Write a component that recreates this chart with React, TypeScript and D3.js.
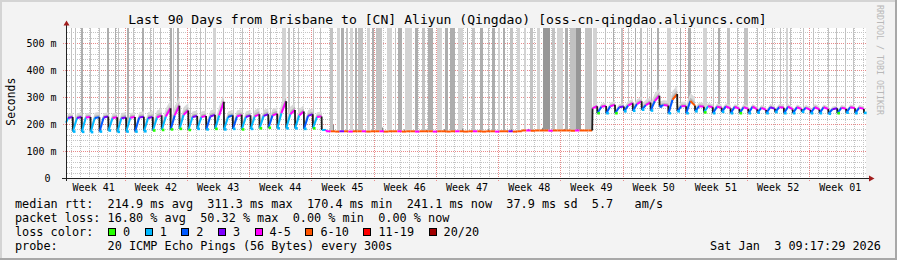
import React from 'react';
import * as d3 from 'd3';

// ---------------- data ----------------
const HOUR = 3600e3;
const DAY = 864e5;
const endTime = Date.UTC(2026, 0, 3, 9, 17, 29);
const startTime = endTime - 90 * DAY;
const yTopSeconds = 0.5556;

const titleText = 'Last 90 Days from Brisbane to [CN] Aliyun (Qingdao) [oss-cn-qingdao.aliyuncs.com]';
const yTickValues = [0, 0.1, 0.2, 0.3, 0.4, 0.5];
const yTickLabels = ['0 ', '100 m', '200 m', '300 m', '400 m', '500 m'];
const weekLabels = ['Week 41', 'Week 42', 'Week 43', 'Week 44', 'Week 45', 'Week 46', 'Week 47', 'Week 48', 'Week 49', 'Week 50', 'Week 51', 'Week 52', 'Week 01'];

const statLines = [
  'median rtt:  214.9 ms avg  311.3 ms max  170.4 ms min  241.1 ms now  37.9 ms sd  5.7   am/s',
  'packet loss: 16.80 % avg  50.32 % max  0.00 % min  0.00 % now',
];
const lossTitle = 'loss color:';
const probeLine = 'probe:       20 ICMP Echo Pings (56 Bytes) every 300s';
const lossLabels = ['0', '1', '2', '3', '4-5', '6-10', '11-19', '20/20'];
const lossUpper = [0, 1, 2, 3, 5, 10, 19, 20];

// Phase 1: daily sawtooth (ms). One entry per ~04:00 drop, Oct 6 .. Nov 2
const earlyFirstDrop = Date.UTC(2025, 9, 6, 4);
const earlyLead = [205, 222, 226];
const earlyLeadLoss = [1, 3];
const earlyLeadSpread = 16;
const earlyLow = [172, 171, 170, 172, 176, 171, 172, 172, 173, 176, 178, 180, 182, 178, 182, 180, 182, 180, 182, 180, 182, 184, 186, 184, 184, 184, 182, 184];
const earlyPlateau = [222, 224, 222, 224, 222, 221, 223, 224, 222, 224, 228, 232, 234, 226, 226, 228, 232, 226, 228, 226, 228, 230, 232, 240, 236, 232, 230, 226];
const earlyPeak = [226, 226, 225, 228, 225, 224, 226, 227, 226, 232, 258, 268, 250, 230, 230, 234, 282, 232, 234, 232, 236, 236, 238, 284, 252, 246, 236, 228];
const earlySpread = [18, 16, 20, 16, 18, 20, 18, 20, 22, 26, 30, 34, 28, 20, 20, 22, 34, 20, 22, 20, 24, 22, 24, 36, 28, 24, 22, 18];
const earlyLossLow = [1, 1, 1, 1, 1, 1, 1, 1, 1, 0, 0, 0, 0, 0, 1, 1, 0, 1, 1, 0, 1, 0, 0, 1, 1, 1, 1, 0];
const earlyLossRise = [1, 1, 1, 2, 1, 1, 1, 2, 1, 1, 1, 2, 1, 1, 1, 2, 1, 1, 2, 1, 1, 1, 2, 1, 1, 1, 2, 1];
const earlyLossHigh = [3, 5, 2, 3, 5, 3, 5, 3, 3, 5, 5, 5, 5, 3, 5, 3, 5, 2, 5, 3, 5, 3, 5, 5, 5, 5, 3, 5];

// Phase 2: flat period, half-day entries from Nov 3 04:00 to Dec 3 14:00
const flatStart = Date.UTC(2025, 10, 3, 4);
const jumpTime = Date.UTC(2025, 11, 3, 14);
const flatValue = [178,
  173, 173, 172, 173, 173, 172, 173, 173, 173, 172, 173, 173, 173, 172, 173, 173, 173, 172, 173, 173, 172, 173,
  173, 173, 172, 173, 173, 172, 173, 173, 173, 172, 173, 173, 173, 172, 173, 173, 172, 173, 173, 173, 172, 173,
  176, 176, 175, 176, 176, 176, 175, 176, 176, 176, 176, 175, 176, 176, 176, 176];
const flatLoss = [1,
  5, 8, 8, 3, 8, 5, 8, 8, 5, 8,
  8, 8, 5, 8, 8, 8, 5, 8, 8, 8,
  5, 8, 8, 8, 5, 8, 8, 8, 8, 5,
  8, 8, 8, 5, 8, 8, 8, 8, 5, 8,
  8, 3, 8, 8, 8, 5, 8, 8, 8, 8,
  5, 8, 8, 8, 8, 8, 5, 8, 8, 8];
const flatBump = [0,
  0, 24, 0, 0, 0, 0, 6, 0, 0, 0, 0, 0, 14, 0, 0, 0, 0, 8, 0, 0, 0, 0, 6, 0, 0, 0, 8, 0, 0, 0,
  10, 0, 0, 0, 0, 0, 8, 0, 0, 0, 0, 8, 0, 0, 0, 6, 0, 0, 10, 0, 0, 0, 0, 6, 0, 0, 5, 0, 0, 0];

// Phase 3: daily humps, one entry per ~04:00 drop, Dec 4 .. Jan 2
const lateFirstDrop = Date.UTC(2025, 11, 4, 4);
const lateLead = [258, 266];
const lateLeadLoss = 5;
const lateLeadSpread = 12;
const lateLow = [240, 240, 240, 247, 249, 253, 250, 265, 240, 247, 240, 247, 243, 240, 245, 240, 240, 240, 242, 240, 244, 240, 240, 245, 240, 240, 238, 240, 242, 240];
const latePlateau = [264, 266, 262, 268, 274, 270, 285, 270, 290, 266, 285, 266, 266, 264, 265, 264, 262, 264, 260, 262, 262, 264, 262, 260, 262, 262, 255, 260, 262, 260];
const latePeak = [267, 271, 265, 277, 284, 280, 305, 268, 311, 266, 268, 264, 262, 260, 258, 256, 256, 254, 252, 256, 260, 254, 255, 252, 254, 255, 258, 256, 258, 256];
const lateSpread = [12, 14, 12, 16, 18, 20, 28, 18, 32, 16, 30, 15, 12, 12, 12, 10, 12, 10, 10, 12, 12, 10, 10, 10, 12, 10, 10, 10, 10, 10];
const lateLossLow = [0, 1, 0, 1, 1, 1, 1, 2, 1, 1, 1, 1, 0, 1, 1, 1, 0, 1, 1, 1, 1, 1, 1, 1, 1, 1, 1, 0, 1, 1];
const lateLossRise = [2, 2, 2, 2, 2, 2, 2, 2, 2, 2, 2, 2, 1, 2, 2, 2, 2, 2, 2, 2, 2, 2, 2, 2, 2, 2, 2, 2, 2, 2];
const lateLossHigh = [5, 5, 3, 5, 5, 5, 5, 5, 8, 5, 8, 5, 5, 5, 5, 5, 5, 5, 5, 3, 5, 5, 5, 5, 5, 5, 3, 5, 5, 5];
const nowValue = 241.1;

// Smoke reaching beyond the top of the graph: days after start, duration (h), intensity (1-4)
const spikeDay = [
  0.56, 1.01, 1.69, 2.70, 3.71, 4.61, 5.51, 5.85, 6.86, 7.54, 8.55, 9.45, 9.79, 10.57, 11.70, 12.04, 12.49, 13.95, 15.07, 15.64,
  16.54, 17.66, 18.79, 19.80, 21.04, 22.16, 22.95, 24.30, 24.97, 25.54, 26.10, 27.79, 28.57,
  29.70, 30.49, 30.94, 31.50, 31.95, 32.51, 32.85, 33.86, 34.42, 34.87, 36.11, 37.01, 37.35, 38.14, 39.26, 40.05, 40.72, 41.74,
  42.64, 43.20, 44.10, 45.11, 45.67, 46.57, 47.47, 47.92, 48.60, 49.16, 49.95, 50.74, 51.52, 52.20, 52.99, 53.66, 54.67, 55.24,
  56.14, 56.70, 57.37, 58.39, 59.28,
  60.64, 61.54, 62.43, 63.22, 64.01, 64.57, 65.36, 65.81, 66.49, 67.61, 69.07, 69.97, 71.66, 72.79, 73.35, 74.37, 75.49, 76.27,
  77.74, 78.41, 79.42, 80.32, 80.99, 81.45, 82.91, 84.04, 85.72, 86.62, 87.63, 88.53];
const spikeHours = [
  3, 3, 5, 3, 3, 5, 3, 3, 5, 3, 5, 3, 3, 3, 5, 3, 5, 3, 3, 3,
  8, 3, 3, 3, 3, 3, 3, 11, 5, 3, 3, 3, 3,
  8, 8, 8, 5, 8, 5, 13, 8, 5, 16, 13, 3, 11, 19, 8, 8, 13, 13,
  8, 13, 13, 3, 8, 8, 3, 8, 5, 5, 8, 8, 5, 8, 8, 19, 8, 16,
  8, 16, 13, 19, 11,
  3, 3, 5, 3, 3, 5, 3, 3, 5, 11, 3, 8, 11, 3, 5, 8, 3, 11,
  3, 3, 3, 3, 5, 3, 3, 3, 3, 3, 3, 3];
const spikeLevel = [
  2, 2, 3, 2, 2, 3, 3, 2, 3, 2, 3, 2, 2, 2, 3, 2, 3, 2, 2, 2,
  1, 2, 2, 2, 2, 2, 2, 1, 2, 2, 2, 2, 2,
  2, 1, 3, 2, 1, 3, 2, 1, 3, 2, 1, 2, 3, 1, 3, 2, 3, 1,
  3, 3, 1, 3, 2, 3, 2, 3, 1, 3, 2, 1, 1, 2, 1, 4, 2, 1,
  3, 2, 4, 2, 1,
  2, 3, 2, 2, 3, 2, 2, 3, 3, 1, 3, 3, 1, 2, 3, 2, 2, 2,
  2, 2, 2, 2, 1, 2, 2, 2, 2, 2, 2, 2];

// ---------------- styles ----------------
const lossColors = ['#26ff00', '#00b8ff', '#0059ff', '#7e00ff', '#ff00ff', '#ff5500', '#ff0000', '#a10000'];
const spikeShades = ['#d3d3d3', '#c2c2c2', '#adadad', '#979797'];
const DARK = -1;
const MONO = '"DejaVu Sans Mono", "Liberation Mono", monospace';
const CHAR_W = 0.602 * 11.84;

const lossColor = (n: number) => {
  if (n < 0) return '#1c1c1c';
  const i = lossUpper.findIndex((u) => n <= u);
  return lossColors[i < 0 ? lossColors.length - 1 : i];
};

type P = [number, number];
type Seg = { t1: number; v1: number; t2: number; v2: number; loss: number };

function buildSeries() {
  const segs: Seg[] = [];
  const dots: { t: number; v: number; loss: number }[] = [];
  const bands: { pts: P[]; spread: number }[] = [];
  const bumps: { t: number; v: number; top: number }[] = [];
  const verts: P[] = [];
  let prev: P = [startTime, earlyLead[0]];
  verts.push(prev);
  const link = (p: P, loss: number) => {
    segs.push({ t1: prev[0], v1: prev[1], t2: p[0], v2: p[1], loss });
    verts.push(p);
    prev = p;
  };
  const sawDay = (drop: number, low: number, plat: number, peak: number, lLow: number, lRise: number, lHigh: number, spread: number) => {
    const p0: P = [drop, low];
    const p1: P = [drop + 11 * HOUR, plat];
    const p2: P = [drop + 23.5 * HOUR, peak];
    link(p0, DARK);
    dots.push({ t: drop, v: low, loss: lLow });
    bands.push({ pts: [p0, p1, p2], spread });
    link(p1, lRise);
    link(p2, lHigh);
  };

  const lead1: P = [Date.UTC(2025, 9, 5, 15), earlyLead[1]];
  const lead2: P = [earlyFirstDrop - 0.5 * HOUR, earlyLead[2]];
  bands.push({ pts: [prev, lead1, lead2], spread: earlyLeadSpread });
  link(lead1, earlyLeadLoss[0]);
  link(lead2, earlyLeadLoss[1]);
  earlyLow.forEach((low, i) =>
    sawDay(earlyFirstDrop + i * DAY, low, earlyPlateau[i], earlyPeak[i], earlyLossLow[i], earlyLossRise[i], earlyLossHigh[i], earlySpread[i]));

  flatValue.forEach((v, i) => {
    const t = flatStart + i * 12 * HOUR;
    const tEnd = i === flatValue.length - 1 ? jumpTime : t + 12 * HOUR;
    if (i === 0) link([t, v], DARK);
    else if (v !== prev[1]) link([t, v], flatLoss[i]);
    link([tEnd, v], flatLoss[i]);
    if (flatBump[i] > 0) bumps.push({ t: t + 6 * HOUR, v, top: v + flatBump[i] });
  });

  link([jumpTime + HOUR, lateLead[0]], DARK);
  const ll: P = [lateFirstDrop - 0.5 * HOUR, lateLead[1]];
  bands.push({ pts: [prev, ll], spread: lateLeadSpread });
  link(ll, lateLeadLoss);
  lateLow.forEach((low, i) =>
    sawDay(lateFirstDrop + i * DAY, low, latePlateau[i], latePeak[i], lateLossLow[i], lateLossRise[i], lateLossHigh[i], lateSpread[i]));
  const finalDrop = lateFirstDrop + lateLow.length * DAY;
  link([finalDrop, nowValue], DARK);
  dots.push({ t: finalDrop, v: nowValue, loss: 1 });
  link([endTime, nowValue], 1);
  return { segs, dots, bands, bumps, verts };
}

export default function App() {
  const x = d3.scaleUtc().domain([new Date(startTime), new Date(endTime)]).range([66, 866]);
  const y = d3.scaleLinear().domain([0, yTopSeconds]).range([178, 28]);
  const X = (t: number) => x(new Date(t));
  const Y = (ms: number) => y(ms / 1000);
  const snap = (v: number) => Math.round(v) + 0.5;

  const { segs, dots, bands, bumps, verts } = buildSeries();
  const bis = d3.bisector((d: P) => d[0]).left;
  const medianAt = (t: number) => {
    const i = Math.max(1, Math.min(verts.length - 1, bis(verts, t)));
    const a = verts[i - 1], b = verts[i];
    if (b[0] === a[0]) return Math.max(a[1], b[1]);
    const k = Math.max(0, Math.min(1, (t - a[0]) / (b[0] - a[0])));
    return a[1] + (b[1] - a[1]) * k;
  };

  const days = d3.utcDay.range(new Date(startTime), new Date(endTime));
  const sundays = d3.utcSunday.range(new Date(startTime), new Date(endTime));
  const weekStarts = d3.utcSunday.range(d3.utcSunday.floor(new Date(startTime)), new Date(endTime));
  const minorY = d3.range(0.02, yTopSeconds, 0.02).filter((v) => Math.abs(v * 10 - Math.round(v * 10)) > 1e-6);

  const area = (spreadK: number) =>
    d3.area<P>().x((d) => X(d[0])).y0((d) => Y(d[1])).y1((d) => Y(d[1] + spreadK));

  // legend layout
  let bx = 108;
  const legendItems = lossLabels.map((lab, i) => {
    const item = { bx: Math.round(bx), lx: bx + 15, lab, color: lossColors[i] };
    bx = bx + 15 + lab.length * CHAR_W + 14.5;
    return item;
  });

  const dateText = d3.utcFormat('%a %b %e %H:%M:%S %Y')(new Date(endTime));

  return (
    <svg width={897} height={260} style={{ position: 'absolute', left: 0, top: 0, display: 'block' }}
      fontFamily={MONO}>
      <rect x={0} y={0} width={897} height={260} fill="#f3f3f3" />
      <rect x={0} y={0} width={897} height={2} fill="#d4d4d4" />
      <rect x={0} y={0} width={2} height={260} fill="#d4d4d4" />
      <rect x={0} y={258} width={897} height={2} fill="#a8a8a8" />
      <rect x={895} y={0} width={2} height={260} fill="#a8a8a8" />
      <rect x={66} y={28} width={800} height={150} fill="#ffffff" />

      {/* minor grid */}
      <g stroke="#c4c4c4" strokeWidth={1} strokeDasharray="1 1">
        {minorY.map((v) => (
          <line key={'my' + v} x1={67} x2={866} y1={snap(y(v))} y2={snap(y(v))} />
        ))}
        {days.filter((d) => d.getUTCDay() !== 0).map((d) => (
          <line key={'mx' + +d} x1={snap(x(d))} x2={snap(x(d))} y1={28} y2={178} />
        ))}
      </g>
      {/* major grid */}
      <g stroke="#e88a8a" strokeWidth={1} strokeDasharray="1 1">
        {yTickValues.slice(1).map((v) => (
          <line key={'My' + v} x1={63} x2={866} y1={snap(y(v))} y2={snap(y(v))} />
        ))}
        {sundays.map((d) => (
          <line key={'Mx' + +d} x1={snap(x(d))} x2={snap(x(d))} y1={28} y2={181} />
        ))}
      </g>

      {/* smoke beyond the top */}
      <g>
        {spikeDay.map((d, i) => {
          const t = startTime + d * DAY;
          const x0 = Math.round(X(t));
          const x1 = Math.max(x0 + 1, Math.round(X(t + spikeHours[i] * HOUR)));
          const yb = Y(medianAt(t + spikeHours[i] * HOUR / 2) + 3);
          return <rect key={'sp' + i} x={x0} y={28} width={x1 - x0} height={Math.max(0, yb - 28)} fill={spikeShades[spikeLevel[i] - 1]} />;
        })}
      </g>

      {/* smoke bands */}
      <g>
        {bands.map((b, i) => (
          <path key={'bo' + i} d={area(b.spread)(b.pts) || ''} fill="#d8d8d8" />
        ))}
        {bands.map((b, i) => (
          <path key={'bi' + i} d={area(b.spread * 0.45)(b.pts) || ''} fill="#b6b6b6" />
        ))}
        {bumps.map((b, i) => (
          <line key={'bu' + i} x1={snap(X(b.t))} x2={snap(X(b.t))} y1={Y(b.v)} y2={Y(b.top)} stroke="#8a8a8a" strokeWidth={1} />
        ))}
      </g>

      {/* median line */}
      <g strokeLinecap="butt">
        {segs.map((s, i) => (
          <line key={'s' + i} x1={X(s.t1)} y1={Y(s.v1)} x2={X(s.t2)} y2={Y(s.v2)}
            stroke={lossColor(s.loss)} strokeWidth={s.loss < 0 ? 1.8 : 2} />
        ))}
        {dots.map((d, i) => (
          <rect key={'d' + i} x={X(d.t)} y={Y(d.v) - 1.3} width={2.6} height={2.6} fill={lossColor(d.loss)} />
        ))}
      </g>

      {/* axes */}
      <line x1={66.5} x2={66.5} y1={181} y2={25} stroke="#222" strokeWidth={1} />
      <line x1={62} x2={869} y1={178.5} y2={178.5} stroke="#222" strokeWidth={1} />
      <path d="M63.5,25.5 L69.5,25.5 L66.5,20.5 Z" fill="#a11d1d" />
      <path d="M869,175.5 L869,181.5 L874.5,178.5 Z" fill="#a11d1d" />

      {/* y labels */}
      <g fontSize={10} fill="#000">
        {yTickValues.map((v, i) => (
          <text key={'yl' + i} x={56.5} y={y(v) + 3.7} textAnchor="end" xmlSpace="preserve" style={{ whiteSpace: 'pre' }}>
            {yTickLabels[i]}
          </text>
        ))}
        {weekStarts.map((d, i) => (
          <text key={'wl' + i} x={X(+d + 3.5 * DAY)} y={191} textAnchor="middle">{weekLabels[i]}</text>
        ))}
      </g>
      <text transform="translate(14.5,101.7) rotate(-90)" fontSize={11.4} textAnchor="middle" fill="#000">Seconds</text>

      {/* title */}
      <text x={447.5} y={24} fontSize={13.1} textAnchor="middle" fill="#000">{titleText}</text>
      <text transform="translate(877,5) rotate(90)" fontSize={8.3} fill="#b8b8b8">RRDTOOL / TOBI OETIKER</text>

      {/* legend */}
      <g fontSize={11.84} fill="#000">
        <text x={15} y={208} xmlSpace="preserve" style={{ whiteSpace: 'pre' }}>{statLines[0]}</text>
        <text x={15} y={221.8} xmlSpace="preserve" style={{ whiteSpace: 'pre' }}>{statLines[1]}</text>
        <text x={15} y={235.7} xmlSpace="preserve" style={{ whiteSpace: 'pre' }}>{lossTitle}</text>
        {legendItems.map((it, i) => (
          <g key={'lg' + i}>
            <rect x={it.bx + 0.5} y={228.5} width={7} height={7} fill={it.color} stroke="#000" strokeWidth={1} />
            <text x={it.lx} y={235.7}>{it.lab}</text>
          </g>
        ))}
        <text x={15} y={249.7} xmlSpace="preserve" style={{ whiteSpace: 'pre' }}>{probeLine}</text>
        <text x={881} y={249.7} textAnchor="end" xmlSpace="preserve" style={{ whiteSpace: 'pre' }}>{dateText}</text>
      </g>
    </svg>
  );
}
